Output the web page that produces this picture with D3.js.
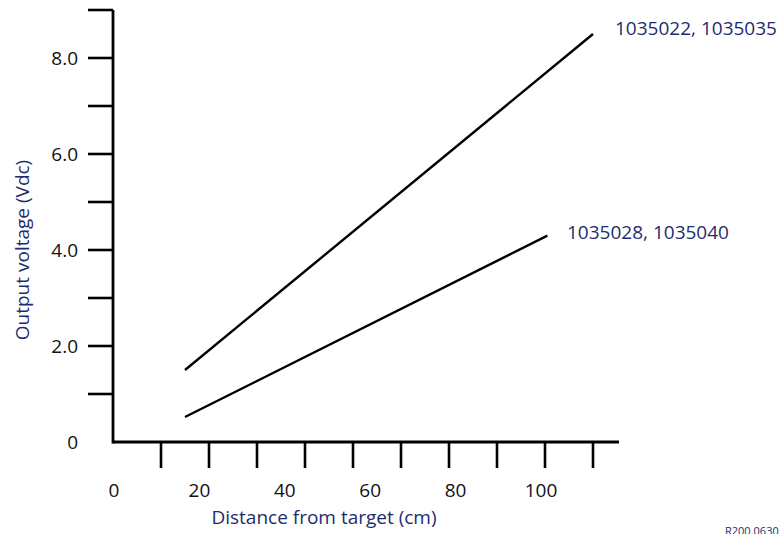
<!DOCTYPE html>
<html>
<head>
<meta charset="utf-8">
<script src="https://cdn.jsdelivr.net/npm/d3@7"></script>
<style>
  body { margin: 0; background: #fff; }
  svg { display: block; font-family: "Open Sans", "Noto Sans", sans-serif; }
</style>
</head>
<body>
<div id="chart"></div>
<script>
// values
const xLabels = [0, 20, 40, 60, 80, 100];
const xTickMarks = [10, 20, 30, 40, 50, 60, 70, 80, 90, 100];
const yTickMarks = [1, 2, 3, 4, 5, 6, 7, 8, 9];
const yLabels = [0, 2, 4, 6, 8];
const seriesNames = ["1035022, 1035035", "1035028, 1035040"];
const seriesA = [[15, 1.5], [100, 8.5]];
const seriesB = [[15, 0.52], [90.5, 4.3]];

const width = 782, height = 534;
const navy = "#1e2c6e";

const svg = d3.select("#chart").append("svg")
    .attr("width", width)
    .attr("height", height);

// tick marks sit on a 10 cm grid, the printed numbers are spaced a bit tighter
const x = d3.scaleLinear().domain([0, 100]).range([113, 593]);
const xText = d3.scaleLinear().domain([0, 100]).range([114, 541]);
const y = d3.scaleLinear().domain([0, 9]).range([442, 10]);

// axis lines
svg.append("line")
    .attr("x1", x(0)).attr("x2", 619)
    .attr("y1", y(0)).attr("y2", y(0))
    .attr("stroke", "#000").attr("stroke-width", 2.8);
svg.append("line")
    .attr("x1", x(0)).attr("x2", x(0))
    .attr("y1", y(0) + 1.4).attr("y2", y(9))
    .attr("stroke", "#000").attr("stroke-width", 2.8);

// x tick marks
svg.selectAll(".xt")
    .data(xTickMarks)
    .join("line")
    .attr("class", "xt")
    .attr("x1", d => x(d)).attr("x2", d => x(d))
    .attr("y1", y(0)).attr("y2", y(0) + 26)
    .attr("stroke", "#000").attr("stroke-width", 2.6);

// y tick marks
svg.selectAll(".yt")
    .data(yTickMarks)
    .join("line")
    .attr("class", "yt")
    .attr("x1", x(0) - 25).attr("x2", x(0))
    .attr("y1", d => y(d)).attr("y2", d => y(d))
    .attr("stroke", "#000").attr("stroke-width", 2.6);

svg.selectAll(".xl")
    .data(xLabels)
    .join("text")
    .attr("class", "xl")
    .attr("x", d => xText(d))
    .attr("y", 497)
    .attr("text-anchor", "middle")
    .attr("font-size", 19)
    .attr("fill", "#111")
    .text(d => d);

svg.selectAll(".yl")
    .data(yLabels)
    .join("text")
    .attr("class", "yl")
    .attr("x", 78)
    .attr("y", d => y(d) + 7)
    .attr("text-anchor", "end")
    .attr("font-size", 19)
    .attr("fill", "#111")
    .text(d => d === 0 ? "0" : d3.format(".1f")(d));

// data lines
const line = d3.line().x(d => x(d[0])).y(d => y(d[1]));
[seriesA, seriesB].forEach(s => {
    svg.append("path")
        .attr("d", line(s))
        .attr("fill", "none")
        .attr("stroke", "#000")
        .attr("stroke-width", 2.4);
});

svg.append("text")
    .attr("x", 615).attr("y", 35)
    .attr("font-size", 19)
    .attr("fill", navy)
    .text(seriesNames[0]);
svg.append("text")
    .attr("x", 567).attr("y", 239)
    .attr("font-size", 19)
    .attr("fill", navy)
    .text(seriesNames[1]);

// axis titles
svg.append("text")
    .attr("x", 324).attr("y", 524)
    .attr("text-anchor", "middle")
    .attr("font-size", 19)
    .attr("fill", navy)
    .text("Distance from target (cm)");
svg.append("text")
    .attr("transform", "translate(29,250) rotate(-90)")
    .attr("text-anchor", "middle")
    .attr("font-size", 19)
    .attr("fill", navy)
    .text("Output voltage (Vdc)");

svg.append("text")
    .attr("x", 725).attr("y", 535)
    .attr("font-size", 11)
    .attr("fill", navy)
    .text("R200.0630");
</script>
</body>
</html>
